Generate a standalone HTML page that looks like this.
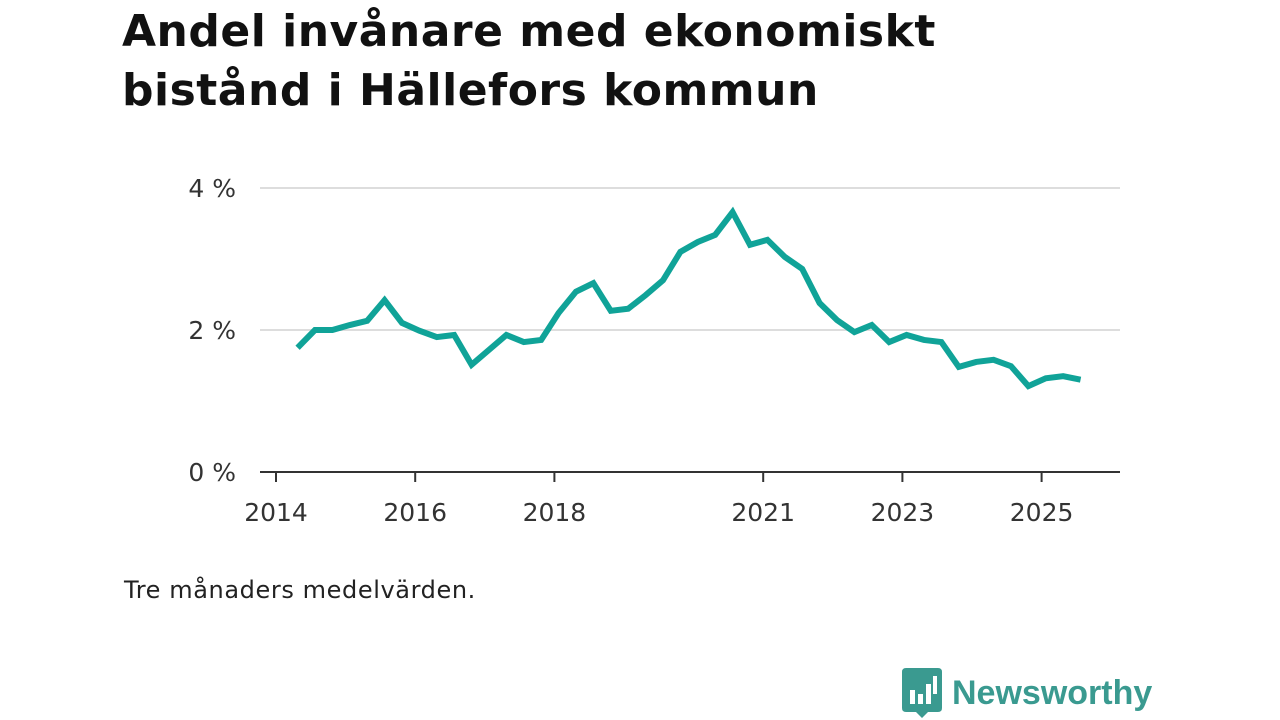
<!DOCTYPE html>
<html><head><meta charset="utf-8"><style>
body{margin:0;width:1280px;height:720px;background:#fff;font-family:"Liberation Sans",sans-serif;overflow:hidden;position:relative}
h1{position:absolute;left:122px;top:2px;margin:0;font-family:"DejaVu Sans",sans-serif;font-size:44px;line-height:59px;font-weight:bold;color:#111;letter-spacing:0.5px}
.note{position:absolute;left:124px;top:576px;font-family:"DejaVu Sans",sans-serif;font-size:24px;color:#222;letter-spacing:0.6px}
.logo{position:absolute;left:902px;top:668px;display:flex;align-items:center}
.logo span{font-size:34px;font-weight:bold;color:#3a9a90;margin-left:10px}
svg text{font-family:"DejaVu Sans",sans-serif;font-size:25px;fill:#333}
</style></head><body>
<h1>Andel invånare med ekonomiskt<br>bistånd i Hällefors kommun</h1>
<svg id="chart" width="1280" height="720" style="position:absolute;left:0;top:0"></svg>
<div class="note">Tre månaders medelvärden.</div>
<div class="logo">
<svg width="40" height="50" viewBox="0 0 40 50"><path d="M0 4 Q0 0 4 0 H36 Q40 0 40 4 V40 Q40 44 36 44 H26 L20 50 L14 44 H4 Q0 44 0 40Z" fill="#3a9a90"/><rect x="8" y="22" width="5" height="14" fill="#fff"/><rect x="16" y="26" width="5" height="10" fill="#fff"/><rect x="24" y="16" width="5" height="20" fill="#fff"/><rect x="31" y="8" width="4" height="18" fill="#fff"/></svg>
<span>Newsworthy</span></div>
<script>
const values=[1.75,2.0,2.0,2.07,2.13,2.42,2.1,1.99,1.9,1.93,1.51,1.72,1.93,1.83,1.86,2.24,2.54,2.66,2.27,2.3,2.49,2.70,3.1,3.24,3.34,3.66,3.2,3.27,3.03,2.86,2.38,2.14,1.97,2.07,1.83,1.93,1.86,1.83,1.48,1.55,1.58,1.49,1.21,1.32,1.35,1.30];
const startYear=2014.31, step=0.25;
const yTicks=[0,2,4];
const xTicks=[2014,2016,2018,2021,2023,2025];
const ns="http://www.w3.org/2000/svg";
const svg=document.getElementById('chart');
const X=t=>276+(t-2014)*69.6;
const Y=v=>472-v*71;
function mk(tag,attrs){const e=document.createElementNS(ns,tag);for(const k in attrs)e.setAttribute(k,attrs[k]);svg.appendChild(e);return e;}
yTicks.forEach(v=>{
 if(v>0){const g=mk('line',{x1:260,x2:1120,y1:Y(v),y2:Y(v),stroke:'#ddd','stroke-width':2});
 
 }
 const t=mk('text',{x:236,y:Y(v)+9,'text-anchor':'end'});t.textContent=v+' %';
 
 
});
const ax=mk('line',{x1:260,x2:1120,y1:472,y2:472,stroke:'#333','stroke-width':2});


xTicks.forEach(yr=>{
 const tk=mk('line',{x1:X(yr),x2:X(yr),y1:472,y2:482,stroke:'#333','stroke-width':2});
 
 
 const t=mk('text',{x:X(yr),y:521,'text-anchor':'middle'});t.textContent=yr;
 
 
});
const pts=values.map((v,i)=>X(startYear+i*step)+','+Y(v)).join(' ');
const line=mk('polyline',{points:pts,fill:'none',stroke:'#10a398','stroke-width':6,'stroke-linejoin':'miter'});


</script>
</body></html>
